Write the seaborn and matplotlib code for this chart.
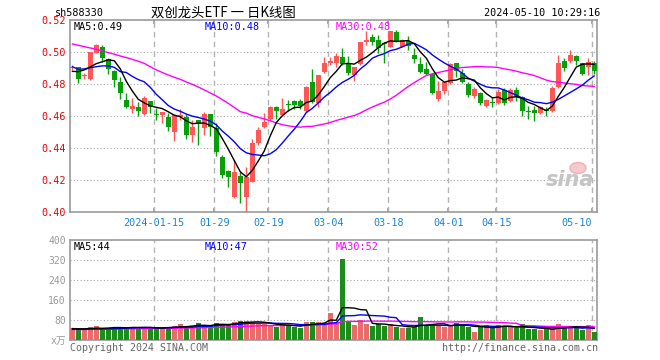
import numpy as np
import pandas as pd
import matplotlib
matplotlib.use("Agg")
import matplotlib.pyplot as plt
from matplotlib.patches import Ellipse
import seaborn as sns

# ---------------- data ----------------
holidays = ["2024-01-01", "2024-02-09", "2024-02-12", "2024-02-13", "2024-02-14",
            "2024-02-15", "2024-02-16", "2024-04-04", "2024-04-05",
            "2024-05-01", "2024-05-02", "2024-05-03"]
dates = [d.strftime("%Y-%m-%d") for d in pd.bdate_range("2023-12-25", "2024-05-10")
         if d.strftime("%Y-%m-%d") not in holidays]

opens = [0.490, 0.4906, 0.485, 0.4835, 0.4998, 0.5031, 0.4958, 0.4883, 0.4817, 0.4702,
         0.4648, 0.4656, 0.4612, 0.4696, 0.4615, 0.4610, 0.4598, 0.4504, 0.4598, 0.4598,
         0.4483, 0.4577, 0.4525, 0.4612, 0.4525, 0.4348, 0.4260, 0.4098, 0.4227, 0.4094,
         0.4192, 0.4435, 0.4531, 0.4581, 0.4656, 0.4608, 0.4675, 0.4698, 0.4698, 0.4635,
         0.4815, 0.4685, 0.4879, 0.4935, 0.4931, 0.4969, 0.4925, 0.4858, 0.4925, 0.5063,
         0.5094, 0.5077, 0.5060, 0.5035, 0.5129, 0.5035, 0.5073, 0.4983, 0.4925, 0.4894,
         0.4865, 0.4706, 0.4760, 0.4806, 0.4935, 0.4873, 0.4800, 0.4725, 0.4744, 0.4665,
         0.4688, 0.4681, 0.4765, 0.4694, 0.4765, 0.4723, 0.4631, 0.4637, 0.4619, 0.4637,
         0.4631, 0.4781, 0.4948, 0.4948, 0.4977, 0.4931, 0.4910, 0.4931]
closes = [0.491, 0.4835, 0.4855, 0.500, 0.5046, 0.4967, 0.4896, 0.4827, 0.4748, 0.4656,
          0.4665, 0.4635, 0.4715, 0.4656, 0.4610, 0.4625, 0.4535, 0.4608, 0.4608, 0.4483,
          0.4535, 0.4552, 0.4612, 0.4531, 0.4379, 0.4233, 0.4219, 0.4254, 0.4181, 0.4223,
          0.4431, 0.4515, 0.4567, 0.4656, 0.4635, 0.4644, 0.4669, 0.4671, 0.4665, 0.4781,
          0.4692, 0.4858, 0.4931, 0.4948, 0.4977, 0.4927, 0.4869, 0.4910, 0.5065, 0.5077,
          0.5067, 0.5025, 0.5054, 0.5133, 0.5063, 0.5077, 0.5040, 0.4956, 0.4879, 0.4865,
          0.4748, 0.4760, 0.4817, 0.4925, 0.4883, 0.4817, 0.4733, 0.4773, 0.4685, 0.4702,
          0.4685, 0.4754, 0.4685, 0.4765, 0.4723, 0.4635, 0.4627, 0.4620, 0.4660, 0.4635,
          0.4777, 0.4931, 0.4900, 0.4983, 0.4948, 0.4865, 0.4942, 0.4885]
highs = [0.492, 0.491, 0.4869, 0.5004, 0.505, 0.5046, 0.4967, 0.489, 0.4848, 0.4748,
         0.4715, 0.4692, 0.4727, 0.4696, 0.465, 0.4625, 0.4619, 0.4613, 0.4644, 0.4613,
         0.4577, 0.4577, 0.4625, 0.4612, 0.4556, 0.4358, 0.4265, 0.4327, 0.4254, 0.4285,
         0.4456, 0.4535, 0.4623, 0.4665, 0.4665, 0.4713, 0.4702, 0.4702, 0.4706, 0.479,
         0.4894, 0.4858, 0.4973, 0.4973, 0.4998, 0.5025, 0.4977, 0.491, 0.5065, 0.5133,
         0.5115, 0.5108, 0.5067, 0.5133, 0.514, 0.5083, 0.5102, 0.5025, 0.4973, 0.4942,
         0.4869, 0.4823, 0.4817, 0.4935, 0.4935, 0.4896, 0.4817, 0.4783, 0.4754, 0.4706,
         0.4721, 0.4769, 0.4775, 0.4775, 0.4785, 0.4727, 0.4665, 0.4665, 0.4665, 0.4656,
         0.4787, 0.4983, 0.4963, 0.5015, 0.4983, 0.4935, 0.4963, 0.4948]
lows = [0.489, 0.481, 0.4831, 0.483, 0.4994, 0.4942, 0.4862, 0.4785, 0.4708, 0.465,
        0.4623, 0.4602, 0.4608, 0.4623, 0.4577, 0.4556, 0.451, 0.4448, 0.4577, 0.446,
        0.4442, 0.4421, 0.4483, 0.4477, 0.4352, 0.4212, 0.416, 0.4088, 0.4056, 0.400,
        0.4187, 0.442, 0.4525, 0.4577, 0.4581, 0.4602, 0.4635, 0.4644, 0.4644, 0.4629,
        0.4685, 0.466, 0.4869, 0.4921, 0.491, 0.4921, 0.4858, 0.4821, 0.4921, 0.5046,
        0.5046, 0.4998, 0.4931, 0.5031, 0.5063, 0.5031, 0.5015, 0.4935, 0.4869, 0.4858,
        0.474, 0.4698, 0.4738, 0.48, 0.4848, 0.481, 0.4723, 0.4713, 0.467, 0.4656,
        0.466, 0.4677, 0.467, 0.4688, 0.4694, 0.4602, 0.4581, 0.4573, 0.4615, 0.4602,
        0.4625, 0.4775, 0.4885, 0.4935, 0.4921, 0.4858, 0.4858, 0.4865]
volumes = [48, 40, 43, 53, 59, 45, 45, 53, 53, 53,
           53, 45, 53, 53, 45, 48, 53, 59, 65, 48,
           59, 69, 59, 59, 69, 64, 64, 73, 79, 76,
           73, 68, 65, 61, 55, 61, 61, 55, 51, 75,
           75, 75, 68, 111, 72, 325, 75, 61, 81, 65,
           57, 64, 57, 65, 53, 48, 48, 53, 93, 61,
           61, 61, 53, 57, 71, 64, 53, 33, 53, 61,
           53, 61, 53, 53, 48, 65, 45, 45, 40, 45,
           45, 65, 53, 53, 53, 40, 61, 33]

# moving-average values before enough history is visible
ma5_head = [0.4881, 0.4879, 0.4890, 0.4908]
ma10_head = [0.4910, 0.4894, 0.4896, 0.4904, 0.4910, 0.4915, 0.4915, 0.4906, 0.4879]
ma30_head = [0.5052, 0.5044, 0.5035, 0.5027, 0.5019, 0.5008, 0.4998, 0.4988, 0.4977, 0.4967,
             0.4956, 0.4944, 0.4931, 0.4910, 0.4890, 0.4874, 0.4858, 0.4844, 0.4831, 0.4815,
             0.4800, 0.4783, 0.4765, 0.4746, 0.4727, 0.4704, 0.4681, 0.4655, 0.4629]
vma5_head = [47, 46, 46, 47]
vma10_head = [44, 44, 44, 45, 45, 45, 46, 46, 47]
vma30_head = [43, 43, 43, 44, 44, 44, 45, 45, 45, 46, 46, 46, 47, 47, 47,
              48, 48, 48, 49, 49, 50, 50, 51, 51, 52, 53, 53, 54, 55]

tick_dates = ["2024-01-15", "2024-01-29", "2024-02-19", "2024-03-04",
              "2024-03-18", "2024-04-01", "2024-04-15", "2024-05-10"]
tick_labels = ["2024-01-15", "01-29", "02-19", "03-04", "03-18", "04-01", "04-15", "05-10"]
price_ticks = [0.40, 0.42, 0.44, 0.46, 0.48, 0.50, 0.52]
vol_ticks = [0, 80, 160, 240, 320, 400]
vol_tick_labels = ["x万", "80", "160", "240", "320", "400"]
price_legend = ["MA5:0.49", "MA10:0.48", "MA30:0.48"]
vol_legend = ["MA5:44", "MA10:47", "MA30:52"]

# ---------------- derived frames ----------------
n = len(closes)
df = pd.DataFrame({"i": np.arange(n), "date": dates, "open": opens, "close": closes,
                   "high": highs, "low": lows, "vol": volumes})
df["up"] = np.where(df["close"] >= df["open"], "up", "down")


def ma(values, w, head):
    s = pd.Series(values, dtype=float).rolling(w).mean()
    s.iloc[:len(head)] = head
    return s

df["ma5"] = ma(closes, 5, ma5_head)
df["ma10"] = ma(closes, 10, ma10_head)
df["ma30"] = ma(closes, 30, ma30_head)
df["vma5"] = ma(volumes, 5, vma5_head)
df["vma10"] = ma(volumes, 10, vma10_head)
df["vma30"] = ma(volumes, 30, vma30_head)

RED = "#ff5656"
GREEN = "#08a008"
pal = {"up": RED, "down": GREEN}
cols = df["up"].map(pal).tolist()

sns.set_theme(style="white")
plt.rcParams["font.family"] = ["DejaVu Sans Mono", "Noto Sans CJK SC"]

W, H = 660, 360
fig = plt.figure(figsize=(6.6, 3.6), dpi=100)
fig.patch.set_facecolor("white")

ax1 = fig.add_axes([70 / W, 1 - 212.3 / H, 527 / W, 192 / H])
ax2 = fig.add_axes([70 / W, 1 - 340.3 / H, 527 / W, 100 / H])

xlim = (-0.38, 87.45)
tick_pos = [dates.index(d) - 0.33 for d in tick_dates]

# ---- price panel ----
ax1.vlines(df["i"], df["low"], df["high"], colors=cols, linewidth=1, zorder=3)
body_lo = np.minimum(df["open"], df["close"])
body_h = np.maximum(np.abs(df["close"] - df["open"]), 0.0007)
ax1.bar(df["i"], body_h, bottom=body_lo, width=0.8, color=cols, linewidth=0, zorder=4)
sns.lineplot(data=df, x="i", y="ma30", color="#ff00ff", linewidth=1, ax=ax1, zorder=5)
sns.lineplot(data=df, x="i", y="ma10", color="#0000ff", linewidth=1, ax=ax1, zorder=5)
sns.lineplot(data=df, x="i", y="ma5", color="#000000", linewidth=1, ax=ax1, zorder=6)

ax1.set_xlim(*xlim)
ax1.set_ylim(0.40, 0.52)
ax1.set_yticks(price_ticks)
ax1.set_yticklabels([f"{t:.2f}" for t in price_ticks])
ax1.set_xticks(tick_pos)
ax1.set_xticklabels(tick_labels)
ax1.xaxis.set_ticks_position("both")
ax1.tick_params(axis="x", direction="in", length=3, color="#999999",
                labelsize=7.3, pad=4, labelcolor="#1a86d6")
ax1.tick_params(axis="y", length=0, labelcolor="#ee0000", labelsize=7.3, pad=3)
xl = ax1.get_xticklabels()
xl[-1].set_ha("right")
for y in price_ticks[1:-1]:
    ax1.axhline(y, color="#aaaaaa", linewidth=0.8, linestyle=(0, (1, 2)), zorder=1)
for x in tick_pos:
    ax1.axvline(x, color="#b4b4b4", linewidth=1, linestyle=(0, (4, 3)), zorder=1)
ax1.set_xlabel("")
ax1.set_ylabel("")

# ---- volume panel ----
sns.barplot(data=df, x="i", y="vol", hue="up", palette=pal, native_scale=True,
            dodge=False, width=0.83, linewidth=0, legend=False, ax=ax2, zorder=3)
sns.lineplot(data=df, x="i", y="vma30", color="#ff00ff", linewidth=1, ax=ax2, zorder=5)
sns.lineplot(data=df, x="i", y="vma10", color="#0000ff", linewidth=1, ax=ax2, zorder=5)
sns.lineplot(data=df, x="i", y="vma5", color="#000000", linewidth=1, ax=ax2, zorder=6)
ax2.set_xlim(*xlim)
ax2.set_ylim(0, 400)
ax2.set_yticks(vol_ticks)
ax2.set_yticklabels(vol_tick_labels)
ax2.set_xticks(tick_pos)
ax2.set_xticklabels([])
ax2.tick_params(axis="x", length=0)
ax2.tick_params(axis="y", length=0, labelcolor="#999999", labelsize=7, pad=3)
for y in vol_ticks[1:-1]:
    ax2.axhline(y, color="#aaaaaa", linewidth=0.8, linestyle=(0, (1, 2)), zorder=1)
for x in tick_pos:
    ax2.axvline(x, color="#b4b4b4", linewidth=1, linestyle=(0, (4, 3)), zorder=1)
ax2.set_xlabel("")
ax2.set_ylabel("")

for ax in (ax1, ax2):
    for sp in ax.spines.values():
        sp.set_color("#999999")
        sp.set_linewidth(1.2)
        sp.set_visible(True)
    ax.set_facecolor("white")

# ---- texts ----
def ftext(x, y, s, **kw):
    fig.text(x / W, 1 - y / H, s, va="center", **kw)

ftext(55, 13, "sh588330", fontsize=7.3, color="black")
ftext(151, 13, "双创龙头ETF 一 日K线图", fontsize=9.6, color="black",
      family=["Noto Sans CJK SC", "DejaVu Sans"])
ftext(600, 13, "2024-05-10 10:29:16", fontsize=7.3, color="black", ha="right")

leg_x = [74, 205, 336]
leg_c = ["#000000", "#0000ff", "#ff00ff"]
for x, s, c in zip(leg_x, price_legend, leg_c):
    ftext(x, 27, s, fontsize=7.3, color=c)
for x, s, c in zip(leg_x, vol_legend, leg_c):
    ftext(x, 247, s, fontsize=7.3, color=c)

ftext(70, 348, "Copyright 2024 SINA.COM", fontsize=7.2, color="#666666")
ftext(598, 348, "http://finance.sina.com.cn", fontsize=7.2, color="#666666", ha="right")

# sina watermark
fig.patches.append(Ellipse((578 / W, 1 - 168 / H), 16 / W, 11 / H, transform=fig.transFigure,
                           facecolor="#f6caca", edgecolor="#f0b0b0", linewidth=1, zorder=0.5))
ftext(570, 180, "sina", fontsize=15, color="#c4c4c4", ha="center", style="italic",
      weight="bold", family=["DejaVu Sans"])

fig.savefig("out.png", dpi=100)
